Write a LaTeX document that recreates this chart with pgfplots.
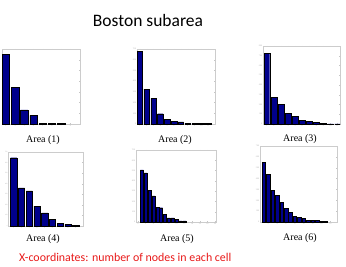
\documentclass[border=0pt]{standalone}
\usepackage{pgfplots}
\pgfplotsset{compat=1.18}
\usepackage{fontspec}
\setmainfont{Liberation Serif}
\newfontfamily\calibri{Carlito}
\definecolor{barblue}{RGB}{0,0,140}
\definecolor{notered}{RGB}{232,24,24}

% common look of the six small histograms
\pgfplotsset{panel/.style={
  scale only axis, anchor=south west,
  ybar, bar width=0.8, ymin=0, enlargelimits=false,
  axis line style={gray!40, line width=0.3pt},
  tick style={gray!45, line width=0.2pt},
  major tick length=1.2pt, tick align=inside,
  /pgf/number format/assume math mode=true,
  ticklabel style={font=\fontsize{2.2}{2.5}\selectfont, text=gray!60, inner sep=0.6pt},
  ytick={0,100,...,800},
  cycle list={{fill=barblue, draw=barblue!70!black, line width=0.2pt}},
}}

\begin{document}
\begin{tikzpicture}
\path[use as bounding box] (0pt,0pt) rectangle (346pt,266pt);

\node[font=\calibri\fontsize{17.5}{20}\selectfont] at (148pt,246pt) {Boston subarea};

% Area (1)
\begin{axis}[panel, at={(2pt,142pt)}, width=78pt, height=75pt,
  xmin=0.58, xmax=9.04, ymax=700, xtick={1,...,8}, yticklabels={}]
\addplot coordinates {(1,653) (2,340) (3,131) (4,81) (5,5) (6,3) (7,3)};
\end{axis}
\node[font=\fontsize{10}{12}\selectfont] at (43pt,126pt) {Area (1)};

% Area (2)
\begin{axis}[panel, at={(137pt,142pt)}, width=78pt, height=75pt,
  xmin=0.58, xmax=12, ymax=700, xtick={1,...,11}]
\addplot coordinates {(1,675) (2,325) (3,240) (4,96) (5,43) (6,22) (7,19) (8,9) (9,6) (10,3) (11,3)};
\end{axis}
\node[font=\fontsize{10}{12}\selectfont] at (175pt,126pt) {Area (2)};

% Area (3)
\begin{axis}[panel, at={(263pt,142pt)}, width=77pt, height=78pt,
  xmin=0.45, xmax=11.35, ymax=800, xtick={1,...,11}]
\addplot coordinates {(1,722) (2,275) (3,200) (4,108) (5,81) (6,41) (7,27) (8,20) (9,10) (10,2) (11,1)};
\end{axis}
\node[font=\fontsize{10}{12}\selectfont] at (300pt,127pt) {Area (3)};

% Area (4)
\begin{axis}[panel, at={(8pt,40pt)}, width=75pt, height=74pt,
  xmin=0.26, xmax=9.93, ymax=700, xtick={1,...,9},
  yticklabel style={inner sep=0.2pt, font=\fontsize{1.7}{2}\selectfont}]
\addplot coordinates {(1,646) (2,360) (3,332) (4,188) (5,125) (6,66) (7,28) (8,16) (9,9)};
\end{axis}
\node[font=\fontsize{10}{12}\selectfont] at (43pt,27pt) {Area (4)};

% Area (5)
\begin{axis}[panel, at={(136pt,44pt)}, width=80pt, height=72pt,
  xmin=-0.5, xmax=20.2, ymax=700, xtick={0,2,...,20}]
\addplot coordinates {(1,506) (2,477) (3,306) (4,255) (5,142) (6,139) (7,71) (8,39) (9,39) (10,23) (11,10) (12,10)};
\end{axis}
\node[font=\fontsize{10}{12}\selectfont] at (177pt,27pt) {Area (5)};

% Area (6)
\begin{axis}[panel, at={(260pt,44pt)}, width=77pt, height=76pt,
  xmin=0.14, xmax=17.5, ymax=700, xtick={0,2,...,18}]
\addplot coordinates {(1,547) (2,440) (3,294) (4,248) (5,183) (6,125) (7,92) (8,52) (9,40) (10,31) (11,15) (12,15) (13,12) (14,9) (15,6)};
\end{axis}
\node[font=\fontsize{10}{12}\selectfont] at (300pt,28pt) {Area (6)};

\node[anchor=west, text=notered, font=\calibri\fontsize{11.9}{14}\selectfont, inner sep=0pt] at (19pt,9pt) {X-coordinates: number of nodes in each cell};
\end{tikzpicture}
\end{document}
